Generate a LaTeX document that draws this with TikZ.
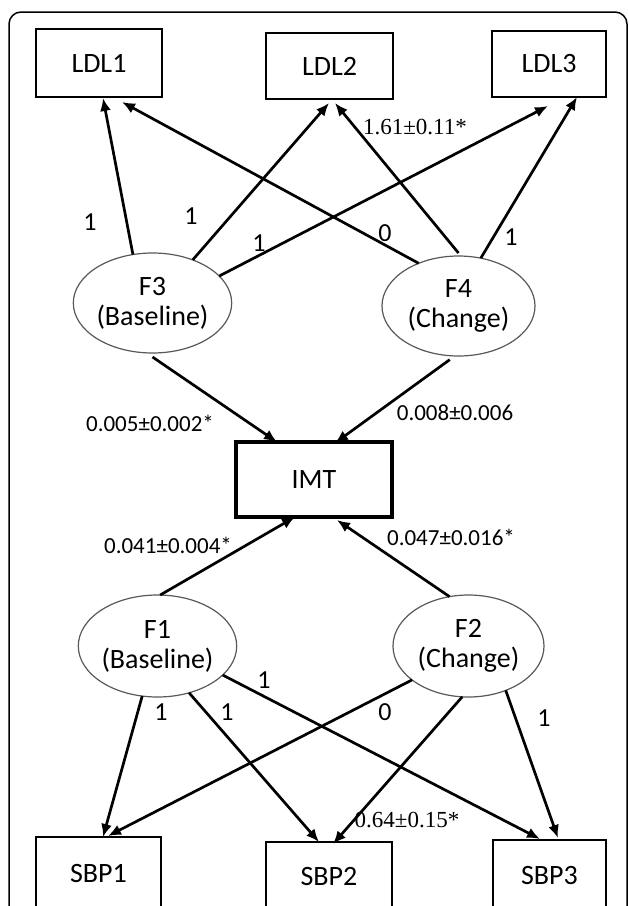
\documentclass[tikz,border=0pt]{standalone}
\usepackage{fontspec}
\setmainfont{Carlito}
\newfontfamily\serifnum{Liberation Serif}
\usetikzlibrary{arrows.meta,shapes.geometric}

\begin{document}
\begin{tikzpicture}[x=1pt,y=-1pt,
  obs/.style={draw=black, line width=1.8pt, rectangle, inner sep=0pt, outer sep=0pt, font=\fontsize{28}{30}\selectfont},
  lat/.style={draw=black!65, line width=1.2pt, ellipse, inner sep=0pt, outer sep=0pt, align=center, font=\fontsize{28}{30}\selectfont},
  conn/.style={line width=2.7pt, -{Latex[length=13pt,width=11pt]}},
  num/.style={font=\fontsize{26}{28}\selectfont, inner sep=0pt},
  est/.style={font=\fontsize{23}{25}\selectfont, inner sep=0pt},
  estserif/.style={font=\serifnum\fontsize{23}{25}\selectfont, inner sep=0pt}
]
\useasboundingbox (0,0) rectangle (629,906);
\fill[white] (0,0) rectangle (629,906);
\draw[line width=1.5pt, rounded corners=12pt] (9,940) -- (9,12) -- (627,12) -- (627,940);

% observed
\node[obs, minimum width=126pt, minimum height=68pt] (LDL1) at (99,63) {LDL1};
\node[obs, minimum width=127pt, minimum height=66pt] (LDL2) at (329.5,66) {LDL2};
\node[obs, minimum width=114pt, minimum height=66pt] (LDL3) at (549,64) {LDL3};
\node[obs, minimum width=125pt, minimum height=72pt] (SBP1) at (98.5,873) {SBP1};
\node[obs, minimum width=126pt, minimum height=68pt] (SBP2) at (329,876) {SBP2};
\node[obs, minimum width=113pt, minimum height=70pt] (SBP3) at (549.5,875) {SBP3};
\node[obs, line width=4pt, minimum width=156pt, minimum height=75pt] (IMT) at (314,479.5) {IMT};

% latent
\node[lat, minimum width=152pt, minimum height=100pt] (F3) at (152.5,303) {F3\\(Baseline)};
\node[lat, minimum width=153pt, minimum height=100pt] (F4) at (458.5,306) {F4\\(Change)};
\node[lat, minimum width=152pt, minimum height=102pt] (F1) at (157.5,646) {F1\\(Baseline)};
\node[lat, minimum width=151pt, minimum height=102pt] (F2) at (468.5,646) {F2\\(Change)};

% connectors top
\draw[conn] (F3.112) -- ([xshift=4pt,yshift=-1pt]LDL1.south);
\draw[conn] (F4.133) -- ([xshift=23pt,yshift=-5pt]LDL1.south);
\draw[conn] (F3.47) -- ([xshift=-0.5pt,yshift=-4pt]LDL2.south);
\draw[conn] ([yshift=3pt]F4.north) -- ([xshift=5.5pt,yshift=-4pt]LDL2.south);
\draw[conn] (F3.22) -- ([xshift=-1pt,yshift=-9pt]LDL3.south);
\draw[conn] (F4.65) -- ([xshift=28pt]LDL3.south);
% to IMT
\draw[conn] ([yshift=-4pt]F3.south) -- ([xshift=-37pt]IMT.north);
\draw[conn] ([yshift=-4pt]F4.260) -- ([xshift=21pt,yshift=-1pt]IMT.north);
\draw[conn] (F1.87) -- ([xshift=-19pt]IMT.south);
\draw[conn] (F2.111) -- ([xshift=23pt,yshift=-3pt]IMT.south);
% bottom
\draw[conn] (F1.253) -- ([xshift=4.5pt]SBP1.north);
\draw[conn] (F2.211) -- ([xshift=9.5pt,yshift=1pt]SBP1.north);
\draw[conn] (F1.304) -- ([xshift=-10pt]SBP2.north);
\draw[conn] (F2.263) -- ([xshift=4pt,yshift=-2pt]SBP2.north);
\draw[conn] (F1.336) -- ([xshift=-9.5pt,yshift=1pt]SBP3.north);
\draw[conn] (F2.310) -- ([xshift=8.5pt,yshift=2pt]SBP3.north);

% labels
\node[num] (l1) at (90,222) {1};
\node[num] (l2) at (191,216) {1};
\node[num] (l3) at (259,243) {1};
\node[num] (l4) at (385,233) {0};
\node[num] (l5) at (511,237) {1};
\node[estserif] (l6) at (415,127) {1.61±0.11*};
\node[est] (l7) at (150,423) {0.005±0.002*};
\node[est] (l8) at (455,413) {0.008±0.006};
\node[est] (l9) at (168,545) {0.041±0.004*};
\node[est] (l10) at (451,537) {0.047±0.016*};
\node[num] (l11) at (161,712) {1};
\node[num] (l12) at (227,712) {1};
\node[num] (l13) at (264,680) {1};
\node[num] (l14) at (385,712) {0};
\node[num] (l15) at (544,718) {1};
\node[estserif] (l16) at (407,820) {0.64±0.15*};
\end{tikzpicture}
\end{document}
